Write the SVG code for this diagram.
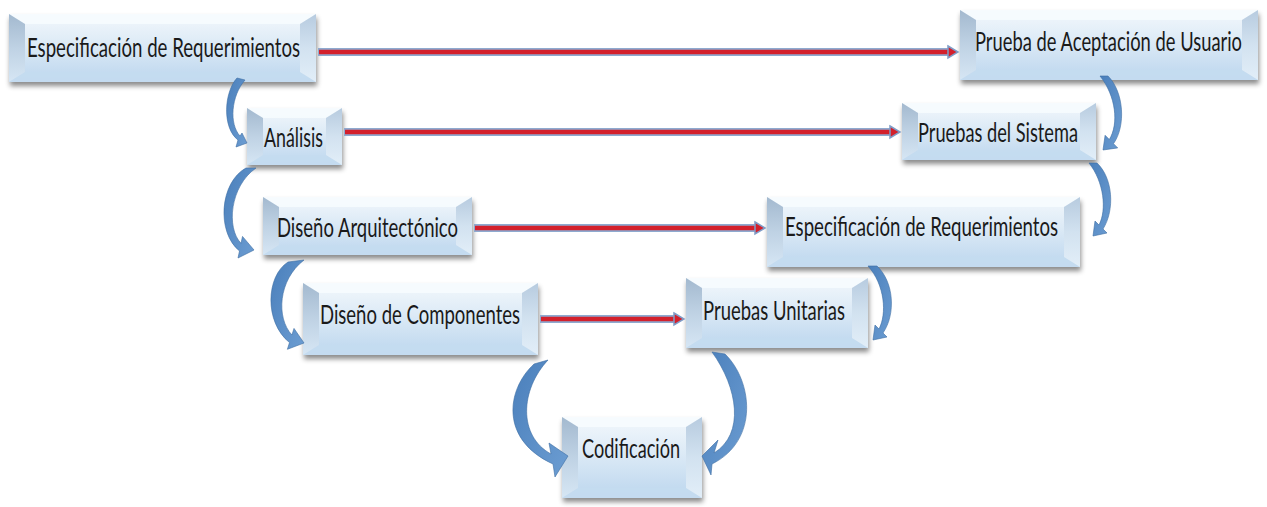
<svg xmlns="http://www.w3.org/2000/svg" width="1267" height="507" viewBox="0 0 1267 507">
<defs>
<linearGradient id="gFace" x1="0" y1="0" x2="0" y2="1">
<stop offset="0" stop-color="#f3f8fc"/><stop offset="0.45" stop-color="#dceaf6"/><stop offset="1" stop-color="#bcd6ee"/>
</linearGradient>
<linearGradient id="gLeft" x1="0" y1="0" x2="0" y2="1">
<stop offset="0" stop-color="#a3b9cf"/><stop offset="0.5" stop-color="#bfd2e4"/><stop offset="1" stop-color="#d6e6f4"/>
</linearGradient>
<linearGradient id="gRight" x1="0" y1="0" x2="0" y2="1">
<stop offset="0" stop-color="#b7cbdf"/><stop offset="0.5" stop-color="#d2e2f0"/><stop offset="1" stop-color="#e2eef8"/>
</linearGradient>
<linearGradient id="gArrow" x1="0" y1="0" x2="1" y2="1">
<stop offset="0" stop-color="#4a7fbb"/><stop offset="1" stop-color="#6c9dd2"/>
</linearGradient>
<filter id="shadow" x="-10%" y="-20%" width="120%" height="160%">
<feDropShadow dx="1" dy="4" stdDeviation="2.5" flood-color="#000" flood-opacity="0.45"/>
</filter>
</defs>
<style>
.face{fill:url(#gFace);filter:url(#shadow)}
.bt{fill:#f7fbfe;opacity:0.85}
.bb{fill:#c4dbef;opacity:0.9}
.bl{fill:url(#gLeft)}
.br{fill:url(#gRight)}
.lbl{font-family:"Lato","Open Sans","Liberation Sans",sans-serif;font-size:27px;fill:#1a1a1a;text-anchor:middle}
.lineOut{stroke:#8eaad0;stroke-width:8;fill:none}
.lineIn{stroke:#d3202c;stroke-width:4.5;fill:none}
.head{fill:#d3202c;stroke:#7f9dc8;stroke-width:1.5;stroke-linejoin:miter}
.curve{fill:url(#gArrow);stroke:#3d6da3;stroke-width:0.6}
</style>
<rect width="1267" height="507" fill="#ffffff"/>
<g id="nodes">
<g id="n1">
<rect class="face" x="9" y="14" width="307" height="68"/>
<polygon class="bt" points="9,14 316,14 300,24 25,24"/>
<polygon class="bb" points="9,82 316,82 300,72 25,72"/>
<polygon class="bl" points="9,14 25,24 25,72 9,82"/>
<polygon class="br" points="316,14 300,24 300,72 316,82"/>
<text class="lbl" transform="translate(163.5,57) scale(0.72,1)" x="0" y="0" textLength="379.2" lengthAdjust="spacingAndGlyphs">Especificación de Requerimientos</text>
</g>
<g id="n2">
<rect class="face" x="960" y="10" width="298" height="70"/>
<polygon class="bt" points="960,10 1258,10 1242,20 976,20"/>
<polygon class="bb" points="960,80 1258,80 1242,70 976,70"/>
<polygon class="bl" points="960,10 976,20 976,70 960,80"/>
<polygon class="br" points="1258,10 1242,20 1242,70 1258,80"/>
<text class="lbl" transform="translate(1108.5,51) scale(0.72,1)" x="0" y="0" textLength="370.8" lengthAdjust="spacingAndGlyphs">Prueba de Aceptación de Usuario</text>
</g>
<g id="n3">
<rect class="face" x="247" y="108" width="95" height="57"/>
<polygon class="bt" points="247,108 342,108 326,118 263,118"/>
<polygon class="bb" points="247,165 342,165 326,155 263,155"/>
<polygon class="bl" points="247,108 263,118 263,155 247,165"/>
<polygon class="br" points="342,108 326,118 326,155 342,165"/>
<text class="lbl" transform="translate(293.5,147) scale(0.72,1)" x="0" y="0" textLength="81.9" lengthAdjust="spacingAndGlyphs">Análisis</text>
</g>
<g id="n4">
<rect class="face" x="902" y="103" width="194" height="57"/>
<polygon class="bt" points="902,103 1096,103 1080,113 918,113"/>
<polygon class="bb" points="902,160 1096,160 1080,150 918,150"/>
<polygon class="bl" points="902,103 918,113 918,150 902,160"/>
<polygon class="br" points="1096,103 1080,113 1080,150 1096,160"/>
<text class="lbl" transform="translate(998,142) scale(0.72,1)" x="0" y="0" textLength="222.2" lengthAdjust="spacingAndGlyphs">Pruebas del Sistema</text>
</g>
<g id="n5">
<rect class="face" x="263" y="197" width="209" height="58"/>
<polygon class="bt" points="263,197 472,197 456,207 279,207"/>
<polygon class="bb" points="263,255 472,255 456,245 279,245"/>
<polygon class="bl" points="263,197 279,207 279,245 263,255"/>
<polygon class="br" points="472,197 456,207 456,245 472,255"/>
<text class="lbl" transform="translate(367.5,237) scale(0.72,1)" x="0" y="0" textLength="251.4" lengthAdjust="spacingAndGlyphs">Diseño Arquitectónico</text>
</g>
<g id="n6">
<rect class="face" x="767" y="197" width="313" height="70"/>
<polygon class="bt" points="767,197 1080,197 1064,207 783,207"/>
<polygon class="bb" points="767,267 1080,267 1064,257 783,257"/>
<polygon class="bl" points="767,197 783,207 783,257 767,267"/>
<polygon class="br" points="1080,197 1064,207 1064,257 1080,267"/>
<text class="lbl" transform="translate(921.5,236) scale(0.72,1)" x="0" y="0" textLength="379.2" lengthAdjust="spacingAndGlyphs">Especificación de Requerimientos</text>
</g>
<g id="n7">
<rect class="face" x="303" y="283" width="235" height="72"/>
<polygon class="bt" points="303,283 538,283 522,293 319,293"/>
<polygon class="bb" points="303,355 538,355 522,345 319,345"/>
<polygon class="bl" points="303,283 319,293 319,345 303,355"/>
<polygon class="br" points="538,283 522,293 522,345 538,355"/>
<text class="lbl" transform="translate(420,324) scale(0.72,1)" x="0" y="0" textLength="277.8" lengthAdjust="spacingAndGlyphs">Diseño de Componentes</text>
</g>
<g id="n8">
<rect class="face" x="686" y="278" width="182" height="70"/>
<polygon class="bt" points="686,278 868,278 852,288 702,288"/>
<polygon class="bb" points="686,348 868,348 852,338 702,338"/>
<polygon class="bl" points="686,278 702,288 702,338 686,348"/>
<polygon class="br" points="868,278 852,288 852,338 868,348"/>
<text class="lbl" transform="translate(774,320) scale(0.72,1)" x="0" y="0" textLength="197.2" lengthAdjust="spacingAndGlyphs">Pruebas Unitarias</text>
</g>
<g id="n9">
<rect class="face" x="562" y="417" width="140" height="81"/>
<polygon class="bt" points="562,417 702,417 686,427 578,427"/>
<polygon class="bb" points="562,498 702,498 686,488 578,488"/>
<polygon class="bl" points="562,417 578,427 578,488 562,498"/>
<polygon class="br" points="702,417 686,427 686,488 702,498"/>
<text class="lbl" transform="translate(631,458) scale(0.72,1)" x="0" y="0" textLength="136.1" lengthAdjust="spacingAndGlyphs">Codificación</text>
</g>
</g>
<g id="connectors">
<g id="e1">
<line class="lineOut" x1="318" y1="52" x2="950" y2="52"/>
<line class="lineIn" x1="319" y1="52" x2="950" y2="52"/>
<polygon class="head" points="948,46 958,52 948,58"/>
</g>
<g id="e2">
<line class="lineOut" x1="344" y1="132" x2="892" y2="132"/>
<line class="lineIn" x1="345" y1="132" x2="892" y2="132"/>
<polygon class="head" points="890,126 900,132 890,138"/>
</g>
<g id="e3">
<line class="lineOut" x1="474" y1="228" x2="757" y2="228"/>
<line class="lineIn" x1="475" y1="228" x2="757" y2="228"/>
<polygon class="head" points="755,222 765,228 755,234"/>
</g>
<g id="e4">
<line class="lineOut" x1="540" y1="319" x2="676" y2="319"/>
<line class="lineIn" x1="541" y1="319" x2="676" y2="319"/>
<polygon class="head" points="674,313 684,319 674,325"/>
</g>
<path id="c1" class="curve" d="M237,78 C224,92 222,128 238,140 L236,147 L247,143 L242,133 L240,136 C229,124 231,96 245,80 Z"/>
<path id="c2" class="curve" d="M246,168 C220,182 216,232 239.5,251 L238,258 L254,250 L242.5,236.4 L241,243.3 C226,228 230,186 256,168 Z"/>
<path id="c3" class="curve" d="M288,262 C266,276 264,322 289.5,342.6 L287.4,349.3 L304,343 L294,328.4 L291.9,335 C276,318 278,280 304,260 Z"/>
<path id="c4" class="curve" d="M534,364 C506,390 500,440 553,464 L555,477 L568,456 L549,443 L551,454 C518,436 520,390 548,360 Z"/>
<path id="c5" class="curve" d="M725,354 C752,380 760,440 712,464 L711,475 L702,456 L718,440 L714,453 C745,434 738,388 712,352 Z"/>
<path id="c6" class="curve" d="M1108,76 C1124,92 1126,126 1113.5,143.7 L1117.7,147.9 L1103,150 L1105.1,135.3 L1109.3,139.5 C1119,124 1116,96 1100,76 Z"/>
<path id="c7" class="curve" d="M1097,163 C1113,178 1115,210 1103,229 L1107,233 L1093,236 L1095,221 L1099,225 C1107,210 1104,182 1089,163 Z"/>
<path id="c8" class="curve" d="M877,266 C894,282 896,314 883,333 L887,337 L873,340 L875,325 L879,329 C887,314 885,285 868,266 Z"/>
</g>
</svg>
